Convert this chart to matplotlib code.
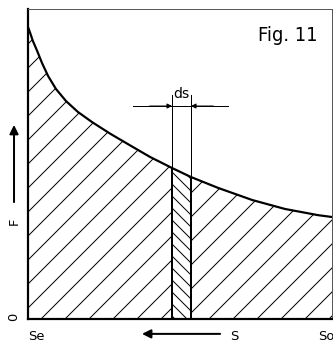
import matplotlib
matplotlib.use("Agg")
import matplotlib.pyplot as plt
import numpy as np

plt.rcParams["font.family"] = "DejaVu Sans"
plt.rcParams["hatch.linewidth"] = 0.5

# force curve F(s), s from Se (0) to So (1), F scaled to frame height
s = np.array([0.000, 0.007, 0.016, 0.030, 0.046, 0.066, 0.092, 0.125, 0.164, 0.211,
              0.270, 0.336, 0.401, 0.474, 0.536, 0.625, 0.737, 0.845, 0.954, 1.000])
F = np.array([0.942, 0.923, 0.897, 0.865, 0.826, 0.784, 0.742, 0.703, 0.668, 0.635,
              0.598, 0.560, 0.523, 0.487, 0.458, 0.423, 0.384, 0.355, 0.335, 0.329])

# element ds
ds_left, ds_right = 0.474, 0.536
F_ds_left, F_ds_right = 0.487, 0.458

fig = plt.figure(figsize=(333 / 144, 342 / 144), dpi=144)
ax = fig.add_axes([28 / 333, 23 / 342, 304 / 333, 310 / 342])
ax.set_xlim(0, 1)
ax.set_ylim(0, 1)
ax.set_xticks([])
ax.set_yticks([])
ax.spines["left"].set_linewidth(1.1)
ax.spines["bottom"].set_linewidth(1.1)
ax.spines["top"].set_linewidth(0.5)
ax.spines["right"].set_linewidth(0.5)
ax.spines["top"].set_color("0.35")
ax.spines["right"].set_color("0.35")

# hatched work area, with the ds strip hatched the other way
ax.fill_between(s, F, where=s <= ds_left, facecolor="none", edgecolor="black",
                hatch="//", linewidth=0)
ax.fill_between(s, F, where=s >= ds_right, facecolor="none", edgecolor="black",
                hatch="//", linewidth=0)
ax.fill_between([ds_left, ds_right], [F_ds_left, F_ds_right], facecolor="none",
                edgecolor="black", hatch="\\\\\\\\", linewidth=0)
ax.plot(s, F, color="black", linewidth=1.1)

# strip borders
for x, f in [(ds_left, F_ds_left), (ds_right, F_ds_right)]:
    ax.plot([x, x], [0, f], color="black", linewidth=1.0)
    ax.plot([x, x], [f, 0.723], color="black", linewidth=0.5)

# dimension line ds
ax.plot([0.345, 0.658], [0.687, 0.687], color="black", linewidth=0.5)
for x0, x1 in [(0.40, ds_left), (0.61, ds_right)]:
    ax.annotate("", xy=(x1, 0.687), xytext=(x0, 0.687),
                arrowprops=dict(arrowstyle="-|>", color="black", lw=0.5,
                                mutation_scale=5, shrinkA=0, shrinkB=0))
ax.text((ds_left + ds_right) / 2, 0.726, "ds", fontsize=7, ha="center", va="center")

ax.text(0.853, 0.897, "Fig. 11", fontsize=10, ha="center", va="baseline",
        fontstretch="condensed")

# F axis label and arrow
ax.annotate("", xy=(-0.046, 0.626), xytext=(-0.046, 0.377),
            arrowprops=dict(arrowstyle="-|>", color="black", lw=1.0,
                            mutation_scale=9, shrinkA=0, shrinkB=0),
            annotation_clip=False)
ax.text(-0.046, 0.316, "F", fontsize=6.5, rotation=90, ha="center", va="center",
        clip_on=False)
ax.text(-0.046, 0.008, "0", fontsize=6.5, rotation=90, ha="center", va="center",
        clip_on=False)

# s axis labels and arrow
ax.text(0.0, -0.058, "Se", fontsize=6.5, ha="left", va="center", clip_on=False)
ax.text(0.68, -0.058, "S", fontsize=6.5, ha="center", va="center", clip_on=False)
ax.text(0.954, -0.058, "So", fontsize=6.5, ha="left", va="center", clip_on=False)
ax.annotate("", xy=(0.375, -0.048), xytext=(0.632, -0.048),
            arrowprops=dict(arrowstyle="-|>", color="black", lw=1.0,
                            mutation_scale=9, shrinkA=0, shrinkB=0),
            annotation_clip=False)

fig.savefig("out.png", dpi=144)
